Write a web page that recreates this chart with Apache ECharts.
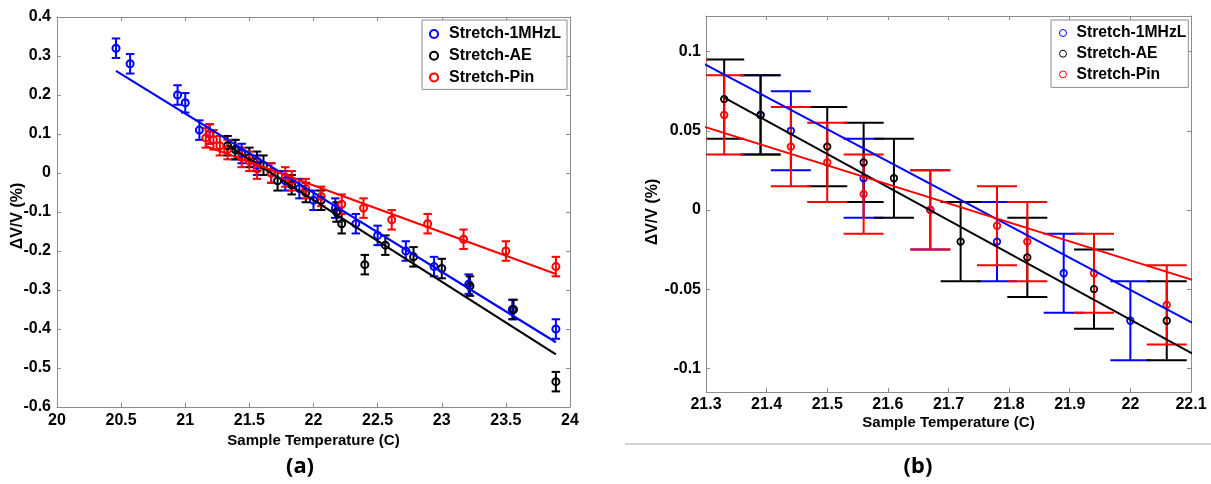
<!DOCTYPE html>
<html><head><meta charset="utf-8">
<script src="https://cdn.jsdelivr.net/npm/echarts@6/dist/echarts.min.js"></script>
<style>html,body{margin:0;padding:0;background:#fff}#c{width:1211px;height:484px}</style>
</head><body><div id="c"></div><script>
const seriesNames = ['Stretch-1MHzL', 'Stretch-AE', 'Stretch-Pin'];
const seriesColors = ['#0000ff', '#000000', '#ff0000'];

// Stretch-1MHzL
const blueT = [20.46, 20.57, 20.94, 21.00, 21.11, 21.19, 21.39, 21.44, 21.56, 21.67, 21.78, 21.89, 22.00, 22.17, 22.33, 22.50, 22.72, 22.94, 23.21, 23.55, 23.89];
const blueV = [0.32, 0.28, 0.20, 0.18, 0.11, 0.10, 0.06, 0.05, 0.02, 0.00, -0.02, -0.04, -0.07, -0.09, -0.13, -0.16, -0.20, -0.24, -0.285, -0.35, -0.40];
const blueErr = [0.025, 0.025, 0.025, 0.025, 0.025, 0.025, 0.025, 0.025, 0.025, 0.025, 0.025, 0.025, 0.025, 0.025, 0.025, 0.025, 0.025, 0.025, 0.025, 0.025, 0.025];
// Stretch-AE
const blackT = [21.33, 21.39, 21.50, 21.56, 21.61, 21.72, 21.83, 21.94, 22.06, 22.18, 22.22, 22.40, 22.56, 22.78, 23.00, 23.22, 23.56, 23.89];
const blackV = [0.07, 0.06, 0.04, 0.03, 0.02, -0.02, -0.03, -0.05, -0.07, -0.10, -0.13, -0.235, -0.185, -0.215, -0.245, -0.29, -0.35, -0.535];
const blackErr = [0.025, 0.025, 0.025, 0.025, 0.025, 0.025, 0.025, 0.025, 0.025, 0.025, 0.025, 0.025, 0.025, 0.025, 0.025, 0.025, 0.025, 0.025];
// Stretch-Pin
const redT = [21.16, 21.19, 21.22, 21.27, 21.33, 21.44, 21.50, 21.56, 21.67, 21.78, 21.83, 21.94, 22.06, 22.22, 22.39, 22.61, 22.89, 23.17, 23.50, 23.89];
const redV = [0.09, 0.10, 0.085, 0.07, 0.06, 0.04, 0.03, 0.01, 0.00, -0.01, -0.02, -0.04, -0.06, -0.08, -0.09, -0.12, -0.13, -0.17, -0.20, -0.24];
const redErr = [0.025, 0.025, 0.025, 0.025, 0.025, 0.025, 0.025, 0.025, 0.025, 0.025, 0.025, 0.025, 0.025, 0.025, 0.025, 0.025, 0.025, 0.025, 0.025, 0.025];

// linear fit end points
const fitBlueT = [20.46, 23.89];
const fitBlueV = [0.262, -0.434];
const fitBlackT = [21.33, 23.89];
const fitBlackV = [0.071, -0.465];
const fitRedT = [21.16, 23.89];
const fitRedV = [0.069, -0.259];

const xLabelA = 'Sample Temperature (C)';
const yLabelA = 'ΔV/V (%)';
const panelLabels = ['(a)', '(b)'];

const allT = [blueT, blackT, redT];
const allV = [blueV, blackV, redV];
const allE = [blueErr, blackErr, redErr];
const fitT = [fitBlueT, fitBlackT, fitRedT];
const fitV = [fitBlueV, fitBlackV, fitRedV];

const CAP = 0.033;
function errRender(color, lw) {
  return function (params, api) {
    const x = api.value(0), y = api.value(1), e = api.value(2);
    const top = api.coord([x, y + e]);
    const bot = api.coord([x, y - e]);
    const l = api.coord([x - CAP, y])[0];
    const r = api.coord([x + CAP, y])[0];
    const style = { stroke: color, lineWidth: lw, fill: null };
    return {
      type: 'group',
      children: [
        { type: 'line', shape: { x1: top[0], y1: top[1], x2: bot[0], y2: bot[1] }, style: style },
        { type: 'line', shape: { x1: l, y1: top[1], x2: r, y2: top[1] }, style: style },
        { type: 'line', shape: { x1: l, y1: bot[1], x2: r, y2: bot[1] }, style: style }
      ]
    };
  };
}

function panelSeries(xi, yi, o) {
  const out = [];
  for (let k = 0; k < 3; k++) {
    const c = seriesColors[k];
    out.push({
      type: 'custom', name: seriesNames[k] + ' err', xAxisIndex: xi, yAxisIndex: yi, clip: true, silent: true,
      renderItem: errRender(c, o.errW),
      data: allT[k].map((t, i) => [t, allV[k][i], allE[k][i]]),
      encode: { x: 0, y: 1 }, z: 2
    });
    out.push({
      type: 'scatter', name: seriesNames[k], xAxisIndex: xi, yAxisIndex: yi, clip: true, silent: true,
      symbol: 'circle', symbolSize: o.sym,
      itemStyle: { color: 'rgba(0,0,0,0)', borderColor: c, borderWidth: o.symW, opacity: 1 },
      data: allT[k].map((t, i) => [t, allV[k][i]]), z: 2
    });
  }
  for (let k = 0; k < 3; k++) {
    out.push({
      type: 'line', name: seriesNames[k] + ' fit', xAxisIndex: xi, yAxisIndex: yi, clip: true, silent: true,
      symbol: 'none', showSymbol: false,
      lineStyle: { color: seriesColors[k], width: o.fitW },
      data: fitT[k].map((t, i) => [t, fitV[k][i]]), z: 3
    });
  }
  return out;
}

const gray = '#8c8c8c';
const labFont = { fontFamily: 'Liberation Sans', fontWeight: 'bold', fontSize: 16, color: '#000' };
const nameFont = { fontFamily: 'Liberation Sans', fontWeight: 'bold', fontSize: 15, color: '#000' };
function boxAxis(gi, pos, min, max, interval, extra) {
  const a = Object.assign({
    type: 'value', gridIndex: gi, position: pos, min: min, max: max,
    nameMoveOverlap: false,
    axisLine: { show: true, onZero: false, lineStyle: { color: gray, width: 1 } },
    axisTick: { show: true, inside: true, length: 4, lineStyle: { color: gray, width: 1 } },
    splitLine: { show: false },
    axisLabel: { show: false }
  }, extra || {});
  if (interval != null) a.interval = interval;
  return a;
}

const legendBase = {
  orient: 'vertical', itemWidth: 8, itemHeight: 8, selectedMode: false,
  borderColor: '#8c8c8c', borderWidth: 1, backgroundColor: '#fff', borderRadius: 0
};

const option = {
  animation: false,
  backgroundColor: '#fff',
  grid: [
    { left: 57, top: 17, width: 513, height: 390, containLabel: false, outerBoundsMode: 'none' },
    { left: 706, top: 16, width: 485, height: 376, containLabel: false, outerBoundsMode: 'none' }
  ],
  xAxis: [
    boxAxis(0, 'bottom', 20, 24, 0.5, {
      name: xLabelA, nameLocation: 'middle', nameGap: 26, nameTextStyle: nameFont,
      axisLabel: Object.assign({ show: true, margin: 6 }, labFont)
    }),
    boxAxis(0, 'top', 20, 24, 0.5),
    boxAxis(1, 'bottom', 21.3, 22.1, 0.1, {
      name: xLabelA, nameLocation: 'middle', nameGap: 23, nameTextStyle: nameFont,
      axisLabel: Object.assign({ show: true, margin: 5 }, labFont)
    }),
    boxAxis(1, 'top', 21.3, 22.1, 0.1)
  ],
  yAxis: [
    boxAxis(0, 'left', -0.6, 0.4, 0.1, {
      name: yLabelA, nameLocation: 'middle', nameGap: 31,
      nameTextStyle: Object.assign({}, nameFont, { fontSize: 16, padding: [0, 8, 0, 0] }),
      axisLabel: Object.assign({ show: true, margin: 6 }, labFont)
    }),
    boxAxis(0, 'right', -0.6, 0.4, 0.1),
    boxAxis(1, 'left', -0.115, 0.1225, null, {
      splitNumber: 5,
      name: yLabelA, nameLocation: 'middle', nameGap: 45,
      nameTextStyle: Object.assign({}, nameFont, { fontSize: 16, padding: [0, 16, 0, 0] }),
      axisLabel: Object.assign({ show: true, margin: 5, showMinLabel: false, showMaxLabel: false }, labFont)
    }),
    boxAxis(1, 'right', -0.115, 0.1225, null, { splitNumber: 5 })
  ],
  legend: [
    Object.assign({}, legendBase, {
      left: 422, top: 20, padding: [6, 6, 4, 7], itemGap: 5.7,
      textStyle: { fontFamily: 'Liberation Sans', fontWeight: 'bold', fontSize: 16, lineHeight: 16, color: '#000', padding: [0, 0, 0, 6] },
      data: seriesNames.map((n, i) => ({ name: n, icon: 'circle', itemStyle: { color: '#fff', borderColor: seriesColors[i], borderWidth: 2 } }))
    }),
    Object.assign({}, legendBase, {
      left: 1051, top: 20, padding: [5, 2, 5, 8], itemGap: 4.7,
      itemWidth: 7, itemHeight: 7,
      textStyle: { fontFamily: 'Liberation Sans', fontWeight: 'bold', fontSize: 15.7, lineHeight: 16, color: '#000', padding: [0, 0, 0, 5] },
      data: seriesNames.map((n, i) => ({ name: n, icon: 'circle', itemStyle: { color: '#fff', borderColor: seriesColors[i], borderWidth: 1 } }))
    })
  ],
  graphic: [
    { type: 'text', x: 300, y: 467, style: { text: panelLabels[0], fontFamily: 'Noto Sans', fontWeight: 'bold', fontSize: 22, fill: '#000', align: 'center', verticalAlign: 'middle', textAlign: 'center', textVerticalAlign: 'middle' } },
    { type: 'text', x: 918, y: 467, style: { text: panelLabels[1], fontFamily: 'Noto Sans', fontWeight: 'bold', fontSize: 22, fill: '#000', align: 'center', verticalAlign: 'middle', textAlign: 'center', textVerticalAlign: 'middle' } },
    { type: 'line', shape: { x1: 625, y1: 444, x2: 1211, y2: 444 }, style: { stroke: '#c4c4c4', lineWidth: 1.5 } }
  ],
  series: [].concat(
    panelSeries(0, 0, { errW: 2, sym: 7, symW: 2, fitW: 2.2 }),
    panelSeries(2, 2, { errW: 2, sym: 6.5, symW: 1.8, fitW: 2 })
  )
};

const chart = echarts.init(document.getElementById('c'), null, { renderer: 'canvas' });
chart.setOption(option);
</script></body></html>
